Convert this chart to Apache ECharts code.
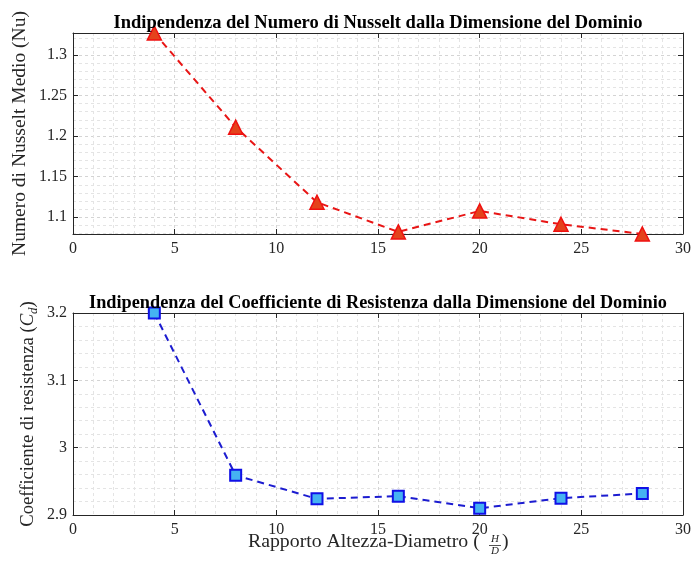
<!DOCTYPE html>
<html>
<head>
<meta charset="utf-8">
<script src="https://cdn.jsdelivr.net/npm/echarts@6/dist/echarts.min.js"></script>
<style>
  html, body { margin: 0; padding: 0; background: #fff; }
  #chart { width: 694px; height: 564px; }
</style>
</head>
<body>
<div id="chart"></div>
<script>
// Aspect ratio H/D for each domain size
const ratioHD = [4, 8, 12, 16, 20, 24, 28];
// Mean Nusselt number
const nusseltMean = [1.327, 1.211, 1.1185, 1.082, 1.1078, 1.0914, 1.0794];
// Drag coefficient C_d
const dragCoeff = [3.2, 2.959, 2.924, 2.928, 2.910, 2.925, 2.932];

// Tick labels
const xTicks = [0, 5, 10, 15, 20, 25, 30];
const nuTicks = [1.1, 1.15, 1.2, 1.25, 1.3];
const cdTicks = [2.9, 3, 3.1, 3.2];

const SERIF = '"Liberation Serif", "Times New Roman", serif';
const AX = '#262626';
const GRID_MAJOR = '#d4d4d4';
const GRID_MINOR = '#e4e4e4';

// Minor grid values for the Nusselt axis (every 0.01)
const nuMinor = [];
for (let k = 108; k <= 132; k++) {
  const v = k / 100;
  if (!nuTicks.some(t => Math.abs(t - v) < 1e-9)) nuMinor.push(v);
}

const nuMin = Math.min(...nusseltMean);
const nuMax = Math.max(...nusseltMean);

const grids = [
  { left: 73, right: 10, top: 33, height: 201 },
  { left: 73, right: 10, top: 313, height: 202 }
];

function xAxisPair(gridIndex) {
  return [
    {
      type: 'value', gridIndex, min: xTicks[0], max: xTicks[xTicks.length - 1], interval: 5,
      position: 'bottom',
      axisLine: { show: true, onZero: false, lineStyle: { color: AX, width: 1 } },
      axisTick: { show: true, inside: true, length: 5, lineStyle: { color: AX } },
      minorTick: { show: false, splitNumber: 5 },
      axisLabel: { color: AX, fontFamily: SERIF, fontSize: 16, margin: 7 },
      splitLine: { show: true, lineStyle: { color: GRID_MAJOR, type: [3, 3], width: 1 } },
      minorSplitLine: { show: true, lineStyle: { color: GRID_MINOR, type: [3, 3], width: 1 } }
    },
    {
      type: 'value', gridIndex, min: xTicks[0], max: xTicks[xTicks.length - 1], interval: 5,
      position: 'top',
      axisLine: { show: true, onZero: false, lineStyle: { color: AX, width: 1 } },
      axisTick: { show: true, inside: true, length: 5, lineStyle: { color: AX } },
      axisLabel: { show: false },
      splitLine: { show: false }
    }
  ];
}

const option = {
  backgroundColor: '#ffffff',
  animation: false,
  grid: grids,
  title: [
    {
      text: 'Indipendenza del Numero di Nusselt dalla Dimensione del Dominio',
      left: 373, top: 9, textAlign: 'center',
      textStyle: { fontFamily: SERIF, fontWeight: 'bold', fontSize: 18.5, color: '#000' }
    },
    {
      text: 'Indipendenza del Coefficiente di Resistenza dalla Dimensione del Dominio',
      left: 373, top: 289, textAlign: 'center',
      textStyle: { fontFamily: SERIF, fontWeight: 'bold', fontSize: 18.3, color: '#000' }
    }
  ],
  xAxis: [...xAxisPair(0), ...xAxisPair(1)],
  yAxis: [
    // Nusselt: left axis with labels
    {
      type: 'value', gridIndex: 0, min: nuMin, max: nuMax, position: 'left',
      name: 'Numero di Nusselt Medio (Nu)', nameLocation: 'middle', nameGap: 43,
      nameMoveOverlap: false,
      nameTextStyle: { fontFamily: SERIF, fontSize: 19.5, color: AX },
      axisLine: { show: true, onZero: false, lineStyle: { color: AX, width: 1 } },
      axisTick: { show: true, inside: true, length: 5, lineStyle: { color: AX }, customValues: nuTicks },
      axisLabel: { color: AX, fontFamily: SERIF, fontSize: 16, margin: 6, customValues: nuTicks },
      splitLine: { show: true, lineStyle: { color: GRID_MAJOR, type: [3, 3], width: 1 } }
    },
    // Nusselt: right box edge
    {
      type: 'value', gridIndex: 0, min: nuMin, max: nuMax, position: 'right',
      axisLine: { show: true, onZero: false, lineStyle: { color: AX, width: 1 } },
      axisTick: { show: true, inside: true, length: 5, lineStyle: { color: AX }, customValues: nuTicks },
      axisLabel: { show: false },
      splitLine: { show: false }
    },
    // Nusselt: minor grid
    {
      type: 'value', gridIndex: 0, min: nuMin, max: nuMax, position: 'left',
      axisLine: { show: false },
      axisTick: { show: false, customValues: nuMinor },
      axisLabel: { show: false },
      splitLine: { show: true, lineStyle: { color: GRID_MINOR, type: [3, 3], width: 1 } }
    },
    // Drag coefficient: left axis with labels
    {
      type: 'value', gridIndex: 1, min: cdTicks[0], max: cdTicks[cdTicks.length - 1], interval: 0.1,
      position: 'left',
      name: '{t|Coefficiente di resistenza (}{c|C}{s|d}{t|)}', nameLocation: 'middle', nameGap: 33,
      nameMoveOverlap: false,
      nameTextStyle: {
        fontFamily: SERIF, fontSize: 18.7, color: AX,
        rich: {
          t: { fontFamily: SERIF, fontSize: 18.7, color: AX, lineHeight: 24, verticalAlign: 'middle' },
          c: { fontFamily: SERIF, fontSize: 18.7, color: AX, fontStyle: 'italic', lineHeight: 24, verticalAlign: 'middle' },
          s: { fontFamily: SERIF, fontSize: 13, color: AX, fontStyle: 'italic', lineHeight: 13, verticalAlign: 'bottom' }
        }
      },
      axisLine: { show: true, onZero: false, lineStyle: { color: AX, width: 1 } },
      axisTick: { show: true, inside: true, length: 5, lineStyle: { color: AX } },
      minorTick: { show: false, splitNumber: 5 },
      axisLabel: {
        color: AX, fontFamily: SERIF, fontSize: 16, margin: 6,
        formatter: v => (Math.abs(v - 3) < 1e-9 ? '3' : v.toFixed(1))
      },
      splitLine: { show: true, lineStyle: { color: GRID_MAJOR, type: [3, 3], width: 1 } },
      minorSplitLine: { show: true, lineStyle: { color: GRID_MINOR, type: [3, 3], width: 1 } }
    },
    // Drag coefficient: right box edge
    {
      type: 'value', gridIndex: 1, min: cdTicks[0], max: cdTicks[cdTicks.length - 1], interval: 0.1,
      position: 'right',
      axisLine: { show: true, onZero: false, lineStyle: { color: AX, width: 1 } },
      axisTick: { show: true, inside: true, length: 5, lineStyle: { color: AX } },
      axisLabel: { show: false },
      splitLine: { show: false }
    }
  ],
  series: [
    {
      type: 'line', xAxisIndex: 0, yAxisIndex: 0, clip: false,
      data: ratioHD.map((x, i) => [x, nusseltMean[i]]),
      lineStyle: { color: '#e81515', width: 2, type: [7, 5] },
      symbol: 'triangle', symbolSize: 14,
      itemStyle: { color: '#e4431c', borderColor: '#f01010', borderWidth: 1.5 },
      z: 5
    },
    {
      type: 'line', xAxisIndex: 2, yAxisIndex: 3, clip: false,
      data: ratioHD.map((x, i) => [x, dragCoeff[i]]),
      lineStyle: { color: '#1c1cd0', width: 2, type: [7, 5] },
      symbol: 'rect', symbolSize: 11,
      itemStyle: { color: '#45b2f2', borderColor: '#1010e6', borderWidth: 2 },
      z: 5
    }
  ],
  graphic: [
    {
      type: 'group', left: 248, top: 532,
      children: [
        { type: 'text', x: 0, y: 12, style: { text: 'Rapporto Altezza-Diametro (', font: '19.8px ' + SERIF, fill: AX, textVerticalAlign: 'middle' } },
        { type: 'text', x: 247, y: 9.5, style: { text: 'H', font: 'italic 11px ' + SERIF, fill: AX, textAlign: 'center', textVerticalAlign: 'middle' } },
        { type: 'line', shape: { x1: 241, y1: 15.5, x2: 253, y2: 15.5 }, style: { stroke: AX, lineWidth: 0.8 } },
        { type: 'text', x: 247, y: 21.5, style: { text: 'D', font: 'italic 11px ' + SERIF, fill: AX, textAlign: 'center', textVerticalAlign: 'middle' } },
        { type: 'text', x: 254, y: 12, style: { text: ')', font: '19.8px ' + SERIF, fill: AX, textVerticalAlign: 'middle' } }
      ]
    }
  ]
};

const chart = echarts.init(document.getElementById('chart'), null, { renderer: 'canvas' });
chart.setOption(option);
</script>
</body>
</html>
